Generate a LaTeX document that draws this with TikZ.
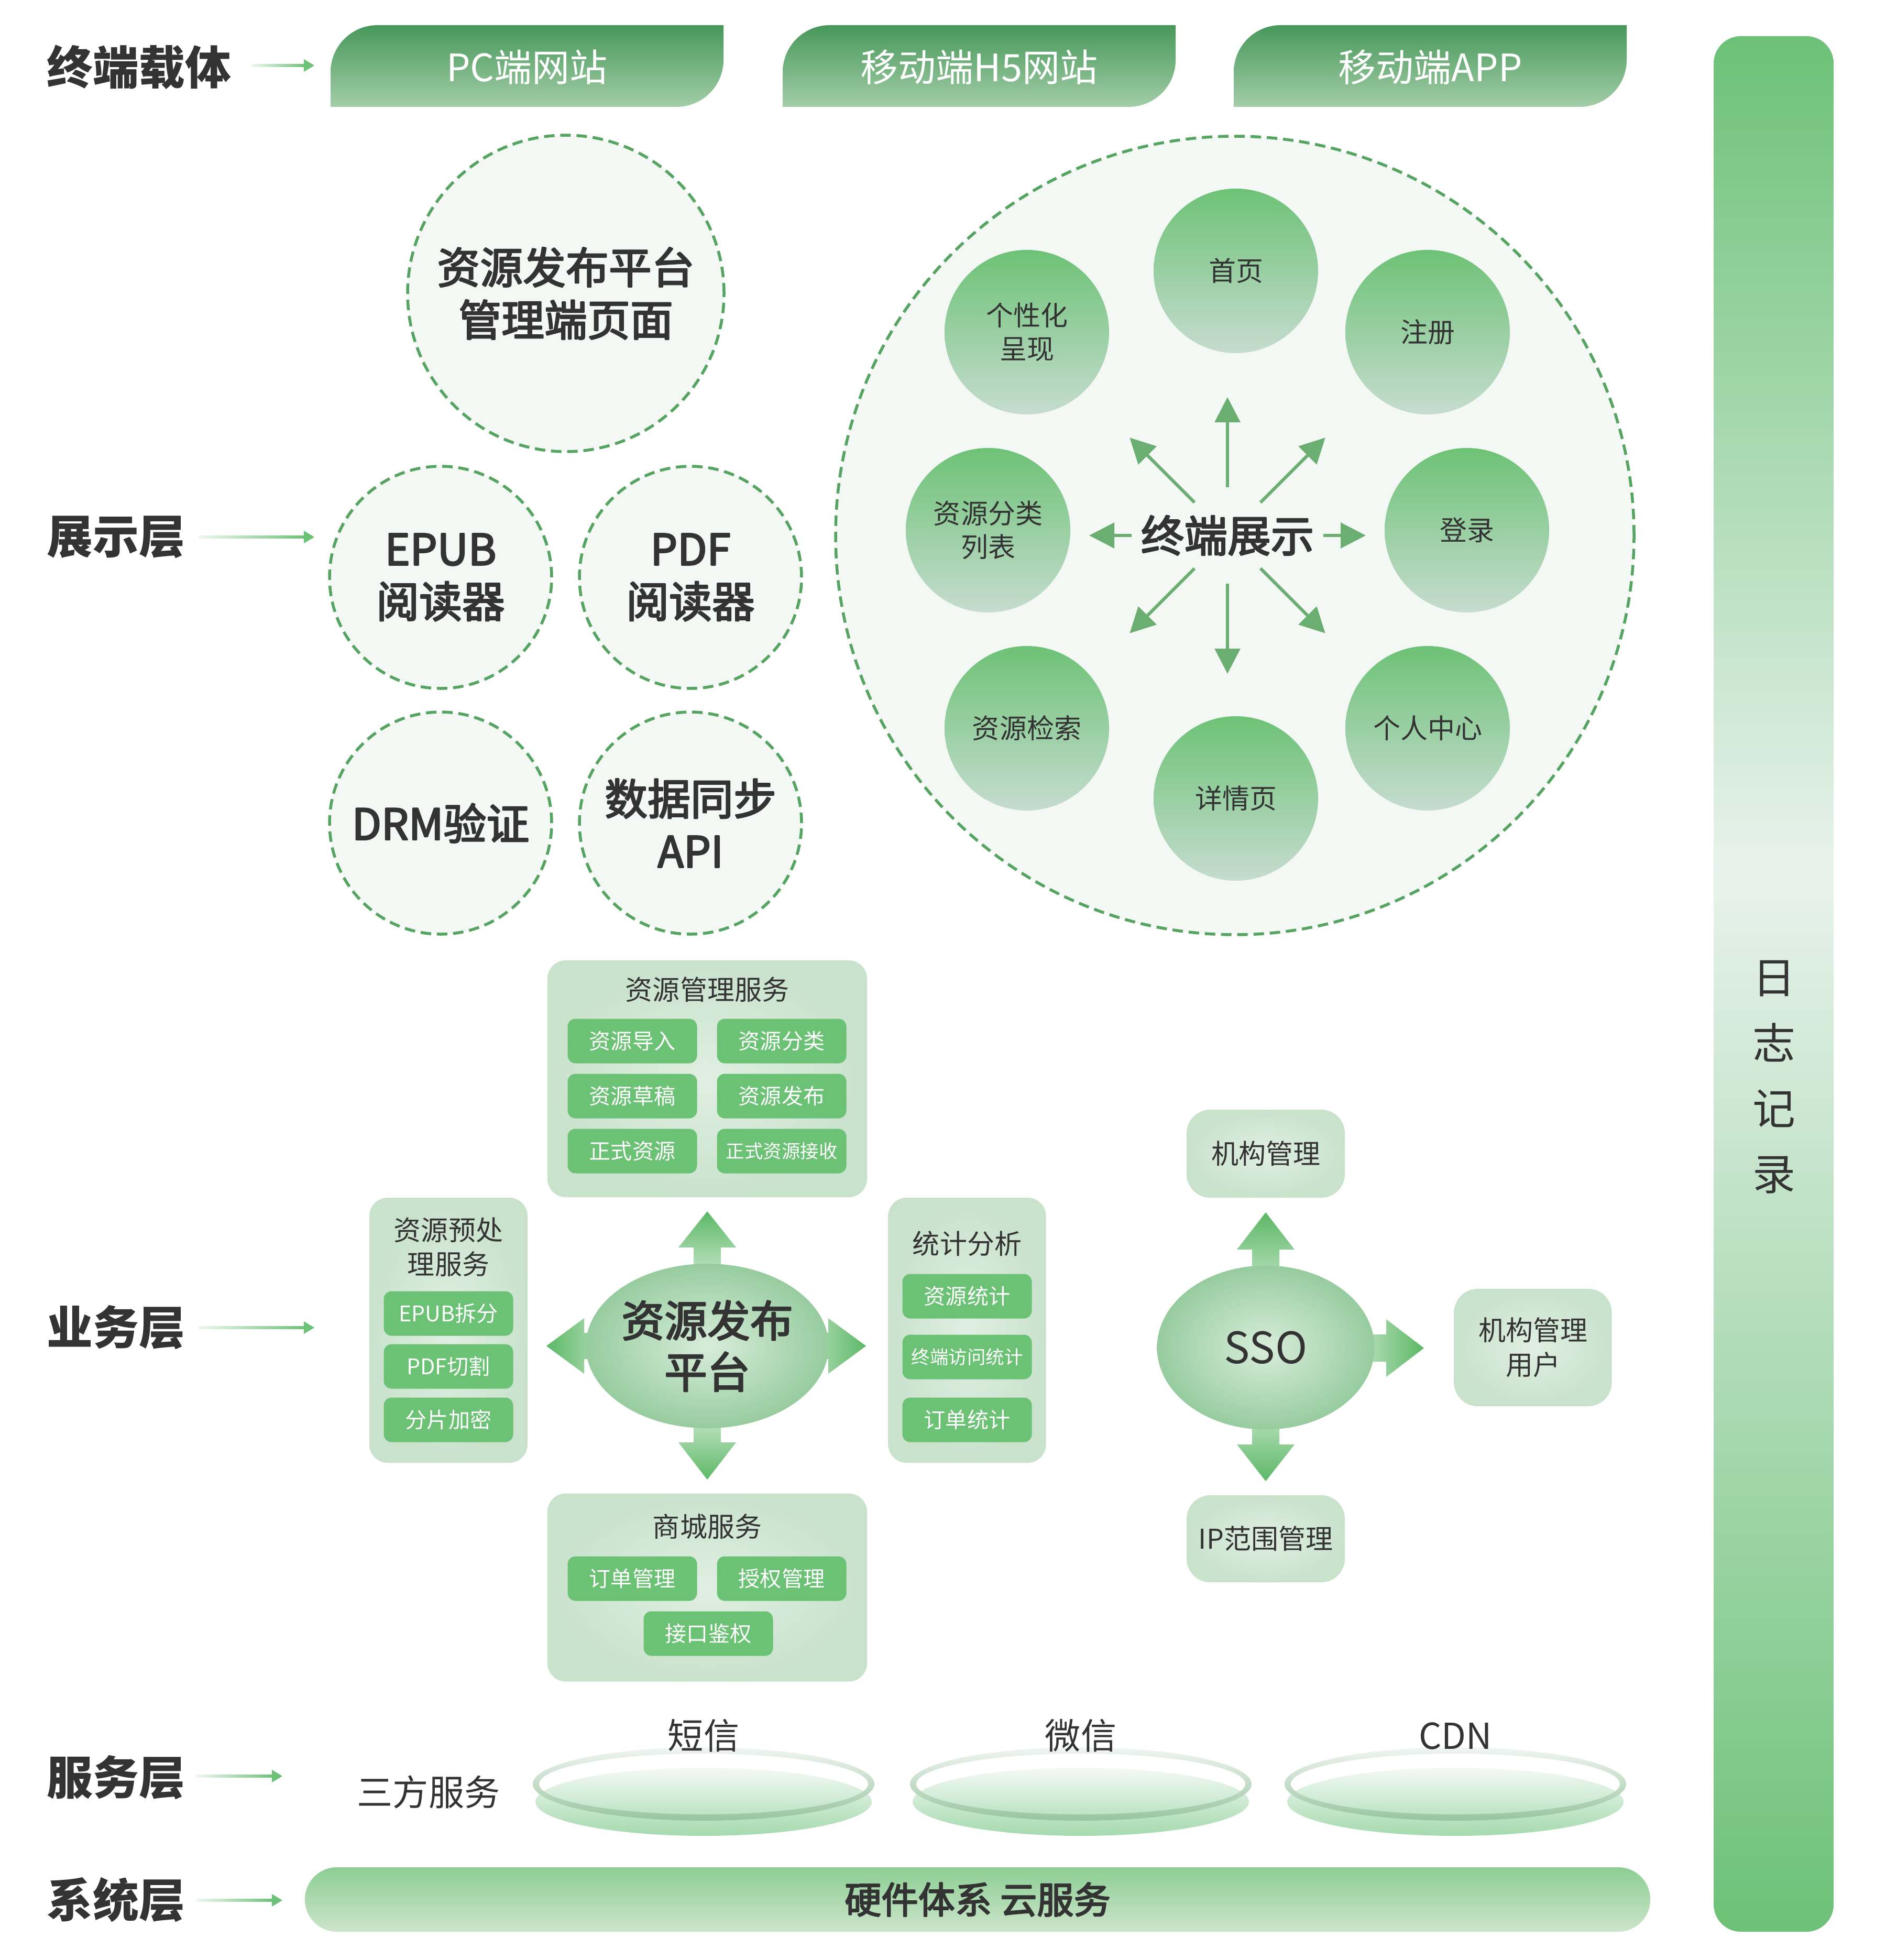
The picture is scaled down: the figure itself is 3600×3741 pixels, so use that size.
\documentclass[tikz,border=0pt]{standalone}
\usepackage{fontspec}
\setmainfont{Noto Sans CJK SC}
\newfontfamily\medfont[FakeBold=3.2]{Noto Sans CJK SC}
\usepackage{tikz}
\usetikzlibrary{arrows.meta}
\usetikzlibrary{shapes, calc}

\definecolor{txtgray}{HTML}{333333}
\definecolor{dashgreen}{HTML}{55A461}
\definecolor{paleback}{HTML}{F3F8F5}
\definecolor{tabtop}{HTML}{47985A}
\definecolor{tabbot}{HTML}{A3CDA8}
\definecolor{logend}{HTML}{6CC177}
\definecolor{logmid}{HTML}{E8F2EC}
\definecolor{circtop}{HTML}{6DC276}
\definecolor{circbot}{HTML}{C6DCCF}
\definecolor{spokecol}{HTML}{6BAE71}
\definecolor{btngreen}{HTML}{6BC275}
\definecolor{boxin}{HTML}{E0EFE2}
\definecolor{boxout}{HTML}{C9E2CC}
\definecolor{ellin}{HTML}{D8EDDA}
\definecolor{ellout}{HTML}{97CC9F}
\definecolor{fatdark}{HTML}{5CB866}
\definecolor{fatlight}{HTML}{C8E6CB}
\definecolor{disctop}{HTML}{F4F9F5}
\definecolor{discbot}{HTML}{A5DAAE}
\definecolor{ringtop}{HTML}{F1F5F2}
\definecolor{ringbot}{HTML}{98C59F}
\definecolor{systop}{HTML}{8CCE94}
\definecolor{sysbot}{HTML}{CDE5CA}
\definecolor{lblstart}{HTML}{EEF6EF}
\definecolor{lblend}{HTML}{6CC277}

\pgfdeclareverticalshading{logbar}{100bp}{color(0bp)=(logend); color(25bp)=(logend); color(53bp)=(logmid); color(75bp)=(logend); color(100bp)=(logend)}

\begin{document}
\begin{tikzpicture}[x=0.1mm,y=-0.1mm,>=latex,line join=bevel,
  every node/.style={text=txtgray,inner sep=0pt,outer sep=0pt},
  layertxt/.style={anchor=west,font=\fontsize{25}{30}\selectfont\bfseries},
  tabtext/.style={text=white,font=\fontsize{20.5}{24}\selectfont},
  dashring/.style={circle,draw=dashgreen,line width=0.55mm,dash pattern=on 2mm off 1.1mm,fill=paleback,align=center,font=\fontsize{23.3}{28.5}\selectfont\medfont},
  pagecircle/.style={circle,minimum size=31.4mm,top color=circtop,bottom color=circbot,align=center,font=\fontsize{14.8}{18.2}\selectfont},
  spoke/.style={draw=spokecol,line width=0.6mm,-{Triangle[length=4.8mm,width=4.8mm]}},
  svcbox/.style={rounded corners=3.5mm,inner color=boxin,outer color=boxout},
  svctitle/.style={align=center,font=\fontsize{14.8}{18.5}\selectfont},
  btn/.style={rounded corners=1.5mm,fill=btngreen,text=white,minimum width=24.7mm,minimum height=8.5mm,font=\fontsize{11.7}{14}\selectfont},
  btnsmall/.style={font=\fontsize{10.1}{12}\selectfont},
  hub/.style={ellipse,minimum width=41.4mm,minimum height=31.4mm,inner color=ellin,outer color=ellout,align=center},
  thirdtxt/.style={font=\fontsize{19.4}{23}\selectfont},
]
\useasboundingbox (0,0) rectangle (3600,3741);
\fill[white] (0,0) rectangle (3600,3741);
%% layer labels
\node (layer_0) at (90,128) [layertxt] {终端载体};
\node (layer_1) at (90,1025) [layertxt] {展示层};
\node (layer_2) at (90,2534) [layertxt] {业务层};
\node (layer_3) at (90,3393) [layertxt] {服务层};
\node (layer_4) at (90,3626) [layertxt] {系统层};
\foreach \y/\a/\b in {125/480/600, 1025/379/600, 2534/379/600, 3390/375/539, 3627/375/539} {
  \shade[left color=lblstart,right color=lblend] (\a,\y-2.5) rectangle (\b-18,\y+2.5);
  \fill[lblend] (\b-20,\y-12) -- (\b,\y) -- (\b-20,\y+12) -- cycle;
}
%% terminal tabs
\foreach \x/\n/\t in {631/node_pc/PC端网站, 1494/node_h5/移动端H5网站, 2355/node_app/移动端APP} {
  \shade[top color=tabtop,bottom color=tabbot] (\x,204) -- (\x,138) .. controls (\x,88) and (\x+40,48) .. (\x+90,48) -- (\x+750,48) -- (\x+750,114) .. controls (\x+750,164) and (\x+710,204) .. (\x+660,204) -- cycle;
  \node (\n) at (\x+375,128) [tabtext] {\t};
}
%% log bar
\shade[shading=logbar,rounded corners=5.2mm] (3271,69) rectangle (3500,3687);
\node (node_log) at (3386,2056) [align=center,font=\fontsize{23.3}{35.6}\selectfont] {日\\志\\记\\录};
%% presentation layer
\node (node_admin) at (1080,560) [dashring,minimum size=60.4mm] {资源发布平台\\管理端页面};
\node (node_epub) at (841,1102) [dashring,minimum size=42.4mm] {EPUB\\阅读器};
\node (node_pdf) at (1318,1102) [dashring,minimum size=42.4mm] {PDF\\阅读器};
\node (node_drm) at (841,1571) [dashring,minimum size=42.4mm] {DRM验证};
\node (node_sync) at (1318,1571) [dashring,minimum size=42.4mm] {数据同步\\API};
\node (node_terminal) at (2357,1022) [dashring,minimum size=152.4mm] {};
\foreach \n/\x/\y/\t in {home/2359/517/首页, register/2725/634/注册, login/2800/1012/登录, user/2725/1390/个人中心, detail/2359/1524/详情页, search/1960/1390/资源检索, category/1886/1012/资源分类\\列表, personal/1960/634/个性化\\呈现}
  \node (node_\n) at (\x,\y) [pagecircle] {\t};
\node (node_show) at (2343,1022) [font=\fontsize{23.5}{28}\selectfont\medfont] {终端展示};
\foreach \a/\r/\l in {0/183/81, 45/89/175, 90/92/172, 135/89/175, 180/183/81, 225/89/175, 270/92/172, 315/89/175}
  \draw[spoke] (node_show) ++(\a:\r) -- ++(\a:\l);
%% business layer
\node (box_manage) at (1350,2059) [svcbox,minimum width=61mm,minimum height=45.2mm] {};
\node (box_prep) at (856,2539) [svcbox,minimum width=30.2mm,minimum height=50.6mm] {};
\node (box_stat) at (1846,2539) [svcbox,minimum width=30.1mm,minimum height=50.6mm] {};
\node (box_shop) at (1350,3030) [svcbox,minimum width=61mm,minimum height=35.9mm] {};
\node (title_manage) at (1350,1889) [svctitle] {资源管理服务};
\node (title_prep) at (856,2380) [svctitle] {资源预处\\理服务};
\node (title_stat) at (1846,2374) [svctitle] {统计分析};
\node (title_shop) at (1350,2914) [svctitle] {商城服务};
\node (btn_import) at (1207,1987) [btn] {资源导入};
\node (btn_class) at (1492,1987) [btn] {资源分类};
\node (btn_draft) at (1207,2092) [btn] {资源草稿};
\node (btn_publish) at (1492,2092) [btn] {资源发布};
\node (btn_formal) at (1207,2197) [btn] {正式资源};
\node (btn_receive) at (1492,2197) [btn,btnsmall] {正式资源接收};
\node (btn_epub) at (856,2507) [btn] {EPUB拆分};
\node (btn_pdf) at (856,2608) [btn] {PDF切割};
\node (btn_encrypt) at (856,2710) [btn] {分片加密};
\node (btn_resstat) at (1846,2474) [btn] {资源统计};
\node (btn_visit) at (1846,2590) [btn,btnsmall] {终端访问统计};
\node (btn_order) at (1846,2710) [btn] {订单统计};
\node (btn_ordermgr) at (1207,3013) [btn] {订单管理};
\node (btn_auth) at (1492,3013) [btn] {授权管理};
\node (btn_api) at (1352,3118) [btn] {接口鉴权};
% block arrows round the platform
\shade[top color=fatdark,bottom color=fatlight] (1324,2440) -- (1324,2381) -- (1295,2381) -- (1350,2312) -- (1405,2381) -- (1376,2381) -- (1376,2440) -- cycle;
\shade[top color=fatlight,bottom color=fatdark] (1324,2700) -- (1324,2753) -- (1295,2753) -- (1350,2824) -- (1405,2753) -- (1376,2753) -- (1376,2700) -- cycle;
\shade[left color=fatdark,right color=fatlight] (1180,2544) -- (1115,2544) -- (1115,2516) -- (1043,2569) -- (1115,2622) -- (1115,2594) -- (1180,2594) -- cycle;
\shade[left color=fatlight,right color=fatdark] (1520,2544) -- (1581,2544) -- (1581,2516) -- (1653,2569) -- (1581,2622) -- (1581,2594) -- (1520,2594) -- cycle;
\node (node_platform) at (1350,2569) [hub,font=\fontsize{23.3}{27.9}\selectfont\medfont] {资源发布\\平台};
% sso
\shade[top color=fatdark,bottom color=fatlight] (2390,2470) -- (2390,2385) -- (2361,2385) -- (2416,2314) -- (2471,2385) -- (2442,2385) -- (2442,2470) -- cycle;
\shade[top color=fatlight,bottom color=fatdark] (2390,2680) -- (2390,2757) -- (2361,2757) -- (2416,2827) -- (2471,2757) -- (2442,2757) -- (2442,2680) -- cycle;
\shade[left color=fatlight,right color=fatdark] (2580,2547) -- (2646,2547) -- (2646,2518) -- (2718,2573) -- (2646,2628) -- (2646,2599) -- (2580,2599) -- cycle;
\node (node_sso) at (2416,2572) [hub,minimum width=41.5mm,minimum height=31.3mm,font=\fontsize{23.5}{28}\selectfont] {SSO};
\node (node_org) at (2416,2202) [svcbox,rounded corners=4.5mm,minimum width=30.2mm,minimum height=16.8mm,svctitle] {机构管理};
\node (node_orguser) at (2926,2572) [svcbox,rounded corners=4.5mm,minimum width=30.1mm,minimum height=22.4mm,svctitle,font=\fontsize{14.8}{18.8}\selectfont] {机构管理\\用户};
\node (node_ip) at (2416,2937) [svcbox,rounded corners=4.5mm,minimum width=30.2mm,minimum height=16.6mm,svctitle] {IP范围管理};
%% service layer
\node (node_third) at (818,3420) [thirdtxt] {三方服务};
\foreach \n/\x/\t in {sms/1343/短信, wechat/2063/微信, cdn/2778/CDN} {
  \shade[top color=disctop,bottom color=discbot] (\x,3439) ellipse [x radius=321,y radius=65];
  \shade[top color=ringtop,bottom color=ringbot,even odd rule] (\x,3405) ellipse [x radius=326,y radius=70] (\x,3405) ellipse [x radius=314,y radius=58];
  \node (node_\n) at (\x,3313) [thirdtxt] {\t};
}
%% system layer
\node (node_sys) at (1866,3625.5) [minimum width=256.8mm,minimum height=12.3mm,rounded corners=6.1mm,top color=systop,bottom color=sysbot,font=\fontsize{20}{24}\selectfont\medfont] {硬件体系 云服务};
%
\end{tikzpicture}
\end{document}
